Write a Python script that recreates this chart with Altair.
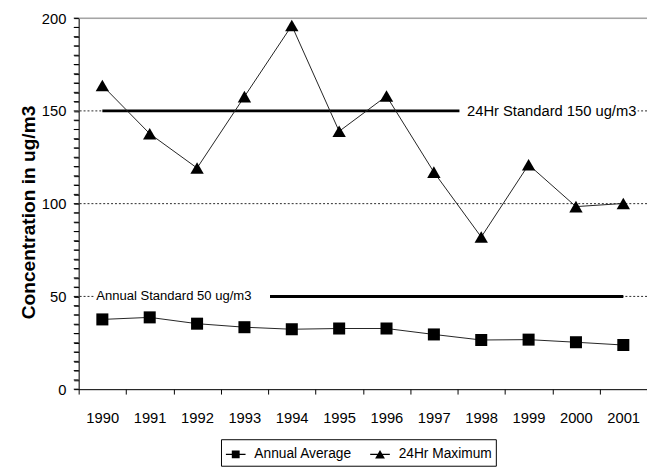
import altair as alt
import pandas as pd

years = [1990, 1991, 1992, 1993, 1994, 1995, 1996, 1997, 1998, 1999, 2000, 2001]
annual_avg = [37.6, 38.7, 35.3, 33.4, 32.3, 32.7, 32.7, 29.5, 26.5, 26.7, 25.3, 23.8]
max_24hr = [163.7, 137.7, 119.2, 157.7, 196.0, 139.0, 158.0, 117.0, 82.0, 121.0, 98.4, 100.1]

series_names = ["Annual Average", "24Hr Maximum"]
grid_values = [50, 100, 150]
top_value = [200]

std_y = [150, 50]
std_start = [1990, 1993.54]
std_end = [1997.54, 2001]
std_labels = ["24Hr Standard 150 ug/m3", "Annual Standard 50 ug/m3"]
label_x = [1997.7, 1989.87]
mask_start = [1997.54, 1989.84]
mask_end = [2001.3, 1993.54]

x_ticks = [1989.5 + i for i in range(13)]
y_ticks = list(range(0, 201, 5))

FONT = "Liberation Sans"

data = pd.DataFrame({"year": years, "annual": annual_avg, "max": max_24hr})
grid_df = pd.DataFrame({"y": grid_values})
top_df = pd.DataFrame({"y": top_value})
std_df = pd.DataFrame({"y": std_y, "x": std_start, "x2": std_end})
lab_df = pd.DataFrame({"y": std_y, "x": label_x, "label": std_labels})
mask_df = pd.DataFrame({"y": std_y, "x": mask_start, "x2": mask_end})
leg_df = pd.DataFrame({"series": series_names})
ytick_df = pd.DataFrame({"y": y_ticks})

xscale = alt.Scale(domain=[1989.5, 2001.5], nice=False, zero=False)
yscale = alt.Scale(domain=[0, 200], nice=False)

x_axis = alt.Axis(
    values=x_ticks,
    labelExpr="datum.value > 2001 ? '' : format(datum.value + 0.5, 'd')",
    labelOffset=24,
    labelFlush=False,
    labelOverlap=False,
    ticks=True,
    tickSize=5,
    tickWidth=1,
    labelPadding=17,
    title=None,
    grid=False,
    domainColor="black",
    tickColor="black",
    labelFont=FONT,
    labelFontSize=15,
    labelColor="black",
)
y_axis = alt.Axis(
    values=y_ticks,
    labelExpr="datum.value % 50 === 0 ? datum.value : ''",
    labelFlush=False,
    labelOverlap=False,
    ticks=True,
    tickSize=5,
    tickWidth=1,
    tickColor="black",
    labelPadding=8,
    grid=False,
    domainColor="black",
    labelFont=FONT,
    labelFontSize=15,
    labelColor="black",
    title="Concentration in ug/m3",
    titleFont="Liberation Sans",
    titleFontSize=19.5,
    titleFontWeight="bold",
    titleColor="black",
    titleX=-51,
    titleY=197.5,
    titleBaseline="middle",
    titleAlign="center",
    titleAngle=270,
)


def X(field):
    return alt.X(field, scale=xscale, axis=x_axis)


def Y(field):
    return alt.Y(field, scale=yscale, axis=y_axis)


yticks = alt.Chart(ytick_df).mark_tick(
    orient="horizontal", color="black", thickness=1, size=5, opacity=1, clip=False
).encode(x=alt.value(-2.5), y=Y("y:Q"))
grid = alt.Chart(grid_df).mark_rule(color="black", strokeDash=[2, 2], strokeWidth=1, opacity=0.85).encode(
    y=Y("y:Q")
)
top = alt.Chart(top_df).mark_rule(color="#808080", strokeWidth=1).encode(y=Y("y:Q"))
mask = alt.Chart(mask_df).mark_rule(color="white", strokeWidth=14).encode(
    x=X("x:Q"), x2="x2:Q", y=Y("y:Q")
)
std = alt.Chart(std_df).mark_rule(color="black", strokeWidth=3).encode(
    x=X("x:Q"), x2="x2:Q", y=Y("y:Q")
)
label_24 = alt.Chart(lab_df).transform_filter(alt.datum.y == 150).mark_text(
    align="left", baseline="middle", font=FONT, fontSize=15, color="black"
).encode(x=X("x:Q"), y=Y("y:Q"), text="label:N")
label_ann = alt.Chart(lab_df).transform_filter(alt.datum.y == 50).mark_text(
    align="left", baseline="middle", font=FONT, fontSize=13.3, color="black"
).encode(x=X("x:Q"), y=Y("y:Q"), text="label:N")

annual_line = alt.Chart(data).mark_line(color="#222", strokeWidth=1).encode(
    x=X("year:Q"), y=Y("annual:Q")
)
annual_pts = alt.Chart(data).mark_point(shape="square", filled=True, color="black", size=150, opacity=1).encode(
    x=X("year:Q"), y=Y("annual:Q")
)
max_line = alt.Chart(data).mark_line(color="#222", strokeWidth=1).encode(
    x=X("year:Q"), y=Y("max:Q")
)
max_pts = alt.Chart(data).mark_point(shape="triangle-up", filled=True, color="black", size=185, opacity=1).encode(
    x=X("year:Q"), y=Y("max:Q")
)

square_path = "M-1,-0.06L1,-0.06L1,0.06L-1,0.06ZM-0.4,-0.4L0.4,-0.4L0.4,0.4L-0.4,0.4Z"
tri_path = "M-1,-0.06L1,-0.06L1,0.06L-1,0.06ZM0,-0.45L0.5,0.42L-0.5,0.42Z"

legend_layer = alt.Chart(leg_df).mark_point(filled=True, color="black", opacity=1).encode(
    shape=alt.Shape(
        "series:N",
        scale=alt.Scale(domain=series_names, range=[square_path, tri_path]),
        legend=alt.Legend(
            title=None,
            orient="none",
            legendX=145,
            legendY=429,
            direction="horizontal",
            strokeColor="black",
            padding=4,
            symbolSize=400,
            symbolFillColor="black",
            symbolOpacity=1,
            labelFont=FONT,
            labelFontSize=14,
            labelColor="black",
            labelOffset=8,
            columnPadding=15,
        ),
    )
).transform_filter("false")

chart = alt.layer(
    grid, top, mask, std, label_24, label_ann,
    annual_line, max_line, annual_pts, max_pts, yticks, legend_layer
).properties(
    width=579,
    height=378,
    autosize=alt.AutoSizeParams(type="none"),
    padding={"left": 72, "top": 6, "right": 0, "bottom": 77},
).configure_view(stroke=None).configure(background="white")

chart.save("out.html", embed_options={"renderer": "svg", "actions": False})
